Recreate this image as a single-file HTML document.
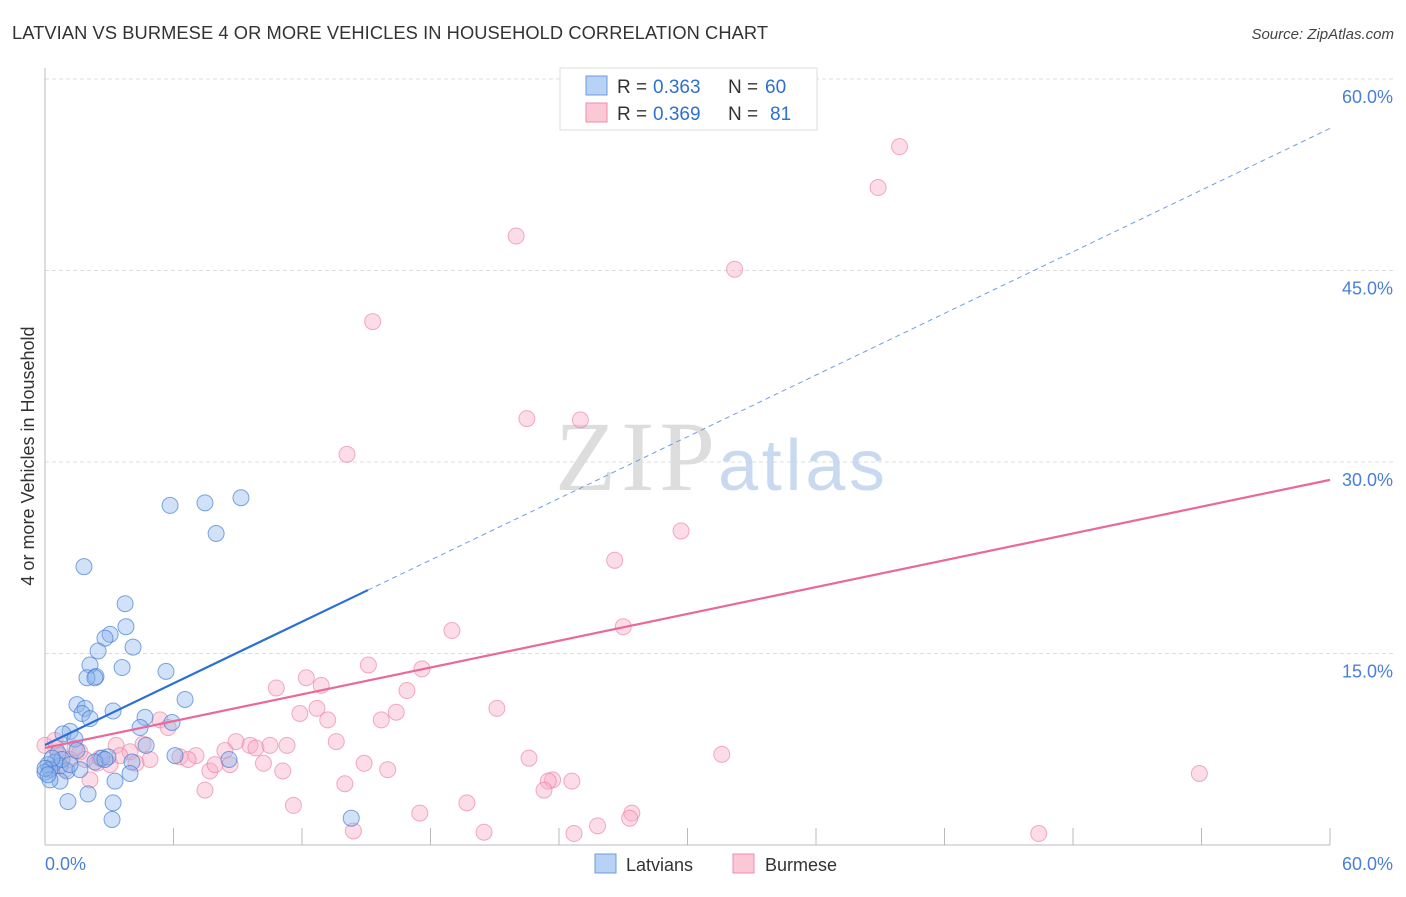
<!DOCTYPE html>
<html><head><meta charset="utf-8"><style>
body{margin:0;background:#fff;font-family:"Liberation Sans",sans-serif}
</style></head><body>
<svg width="1406" height="892" xmlns="http://www.w3.org/2000/svg">
<text x="12" y="39" font-size="18.3" fill="#333" textLength="756">LATVIAN VS BURMESE 4 OR MORE VEHICLES IN HOUSEHOLD CORRELATION CHART</text>
<text x="1394" y="39" font-size="15" fill="#444" font-style="italic" text-anchor="end">Source: ZipAtlas.com</text>
<g id="grid"></g>
<text x="555" y="490" font-size="100" fill="#ddd" textLength="160" font-family="Liberation Serif,serif">ZIP</text>
<text x="718" y="490" font-size="72" fill="#c9daf0" textLength="167">atlas</text>
<line x1="45" y1="68" x2="45" y2="845" stroke="#bbb"/>
<line x1="45" y1="845" x2="1330" y2="845" stroke="#bbb"/>
<text transform="translate(34,456) rotate(-90)" font-size="18" fill="#333" text-anchor="middle">4 or more Vehicles in Household</text>
<text x="45" y="870" font-size="18" fill="#4a7fd6">0.0%</text>
<text x="1393" y="870" font-size="18" fill="#4a7fd6" text-anchor="end">60.0%</text>
<g id="pts"></g>
<g id="lines"></g>
<rect x="560" y="68" width="257" height="62" fill="#fff" stroke="#ddd"/>
<rect x="586" y="76" width="21" height="19" fill="#b8d2f5" stroke="#6d9be0"/>
<rect x="586" y="103" width="21" height="19" fill="#fbc8d6" stroke="#ee8eaa"/>
<g font-size="19" fill="#333">
<text x="617" y="93">R =</text><text x="653" y="93" fill="#2f6fd1">0.363</text>
<text x="728" y="93">N =</text><text x="765" y="93" fill="#2f6fd1">60</text>
<text x="617" y="120">R =</text><text x="653" y="120" fill="#2f6fd1">0.369</text>
<text x="728" y="120">N =</text><text x="770" y="120" fill="#2f6fd1">81</text>
</g>
<rect x="595" y="854" width="21" height="19" fill="#b8d2f5" stroke="#6d9be0"/>
<text x="626" y="871" font-size="18" fill="#333">Latvians</text>
<rect x="733" y="854" width="21" height="19" fill="#fbc8d6" stroke="#ee8eaa"/>
<text x="765" y="871" font-size="18" fill="#333">Burmese</text>
</svg>
<script>
const yTicks=[15,30,45,60];
const yTickLabels=["15.0%","30.0%","45.0%","60.0%"];
const xTicks=[6,12,18,24,30,36,42,48,54,60];
const latX=[5.84,7.47,9.15,7.99,1.82,3.74,3.04,3.78,2.80,4.11,2.48,2.10,3.60,2.38,1.96,2.33,5.65,6.54,1.49,1.87,1.73,2.10,3.18,4.67,4.44,5.93,1.17,0.84,1.40,1.49,0.61,4.72,2.66,2.94,0.47,0.14,0.70,0.23,0,1.03,1.63,4.06,3.97,3.27,0.70,2.01,1.07,3.18,3.13,14.3,8.59,6.07,0.23,0.79,0.33,0,1.17,2.33,2.80,0.14];
const latY=[26.6,26.8,27.2,24.4,21.8,18.9,16.5,17.1,16.2,15.5,15.2,14.1,13.9,13.2,13.1,13.1,13.6,11.4,11.0,10.7,10.3,9.9,10.5,10.0,9.2,9.6,8.9,8.7,8.3,7.4,7.2,7.8,6.8,6.9,6.5,6.3,6.2,5.9,5.7,5.8,5.9,6.5,5.6,5.0,5.0,4.0,3.4,3.3,2.0,2.1,6.7,7.0,5.1,6.7,6.8,6.0,6.3,6.5,6.7,5.5];
const burX=[39.9,38.9,22.0,32.2,15.3,22.5,25.0,14.1,29.7,26.6,27.0,19.0,15.1,17.6,12.2,10.8,12.9,16.9,12.7,11.9,21.1,16.4,13.2,15.7,5.37,5.75,13.6,8.92,9.57,11.3,9.85,10.5,8.40,4.58,3.32,1.63,0.51,3.97,6.30,7.05,6.68,31.6,22.6,14.9,10.2,8.64,4.90,4.25,2.43,16.0,11.1,7.70,7.94,53.9,23.7,23.5,24.6,23.3,14.0,7.47,19.7,11.6,17.5,27.4,27.3,25.8,20.5,14.4,24.7,46.4,0,0.70,1.17,0.23,1.40,1.87,0.93,3.04,2.57,3.50,2.10,0.47];
const burY=[54.7,51.5,47.7,45.1,41.0,33.4,33.3,30.6,24.6,22.3,17.1,16.8,14.1,13.8,13.1,12.3,12.5,12.1,10.7,10.3,10.7,10.4,9.8,9.8,9.8,9.2,8.1,8.1,7.8,7.8,7.6,7.8,7.4,7.9,7.8,7.3,7.6,7.3,6.9,7.0,6.7,7.1,6.8,6.4,6.4,6.3,6.7,6.4,6.4,5.9,5.8,5.8,6.3,5.6,5.1,5.0,5.0,4.3,4.8,4.3,3.3,3.1,2.5,2.5,2.1,1.5,1.0,1.1,0.9,0.9,7.8,7.0,6.7,6.0,7.6,6.7,5.9,6.3,6.8,7.0,5.1,8.2];
const latTrend=[7.83,0.805]; // intercept, slope
const burTrend=[7.6,0.35];
const latSolidEnd=15.08;

const NS="http://www.w3.org/2000/svg";
const sx=v=>45+v*(1285/60);
const sy=v=>845-v*(766/60);
function mk(t,a,p){const e=document.createElementNS(NS,t);for(const k in a)e.setAttribute(k,a[k]);p.appendChild(e);return e;}
const grid=document.getElementById('grid');
yTicks.forEach((t,i)=>{
  const l=mk('line',{x1:45,x2:1393,y1:sy(t),y2:sy(t),stroke:'#ddd','stroke-dasharray':'4,3'},grid);
  
  
  const tx=mk('text',{x:1393,y:sy(t)+24,'font-size':18,fill:'#4a7fd6','text-anchor':'end'},grid);
  tx.textContent=yTickLabels[i];
  
  
});
xTicks.forEach(t=>{
  const l=mk('line',{x1:sx(t),x2:sx(t),y1:828,y2:845,stroke:'#bbb'},grid);
  
  
});
const pts=document.getElementById('pts');
burX.forEach((x,i)=>{
  const c=mk('circle',{cx:sx(x),cy:sy(burY[i]),r:8,fill:'rgba(248,170,195,0.4)',stroke:'rgba(235,120,155,0.6)','stroke-width':1},pts);
  
  
});
latX.forEach((x,i)=>{
  const c=mk('circle',{cx:sx(x),cy:sy(latY[i]),r:8,fill:'rgba(140,180,235,0.4)',stroke:'rgba(60,120,210,0.65)','stroke-width':1},pts);
  
  
});
const lines=document.getElementById('lines');
const f=(tr,x)=>tr[0]+tr[1]*x;
let l1=mk('line',{x1:sx(0),y1:sy(f(latTrend,0)),x2:sx(latSolidEnd),y2:sy(f(latTrend,latSolidEnd)),stroke:'#2a6fd6','stroke-width':2.2},lines);


let l2=mk('line',{x1:sx(latSolidEnd),y1:sy(f(latTrend,latSolidEnd)),x2:sx(60),y2:sy(f(latTrend,60)),stroke:'#6f9de0','stroke-width':1,'stroke-dasharray':'5,4'},lines);


let l3=mk('line',{x1:sx(0),y1:sy(f(burTrend,0)),x2:sx(60),y2:sy(f(burTrend,60)),stroke:'#e8699a','stroke-width':2.2},lines);


</script>
</body></html>
